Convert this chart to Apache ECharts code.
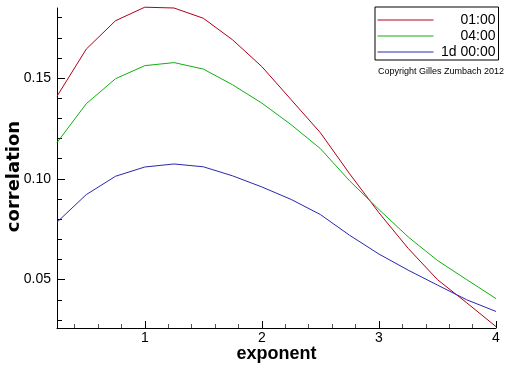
<!DOCTYPE html>
<html><head><meta charset="utf-8">
<script src="https://cdn.jsdelivr.net/npm/echarts@6/dist/echarts.min.js"></script>
<style>html,body{margin:0;padding:0;background:#fff}#c{width:512px;height:366px}</style>
</head><body><div id="c"></div>
<script>
var exponents = [0.25,0.5,0.75,1.0,1.25,1.5,1.75,2.0,2.25,2.5,2.75,3.0,3.25,3.5,3.75,4.0];
var s0100 = [0.1410,0.1644,0.1785,0.1852,0.1848,0.1797,0.1690,0.1557,0.1393,0.1229,0.1025,0.0832,0.0655,0.0500,0.0385,0.0267];
var s0400 = [0.1180,0.1373,0.1497,0.1562,0.1577,0.1545,0.1467,0.1376,0.1269,0.1150,0.0990,0.0848,0.0712,0.0595,0.0500,0.0406];
var s1d = [0.0785,0.0922,0.1013,0.1059,0.1074,0.1060,0.1015,0.0960,0.0898,0.0823,0.0720,0.0627,0.0547,0.0473,0.0400,0.0342];
var seriesNames = ['01:00','04:00','1d 00:00'];
var xMajor = [1,2,3,4];
var xMinor = [0.4,0.6,0.8,1.2,1.4,1.6,1.8,2.2,2.4,2.6,2.8,3.2,3.4,3.6,3.8];
var yMajor = [0.05,0.10,0.15];
var yMinor = [0.03,0.04,0.06,0.07,0.08,0.09,0.11,0.12,0.13,0.14,0.16,0.17,0.18];
var xName = 'exponent', yName = 'correlation';
var copyright = 'Copyright Gilles Zumbach 2012';

function pairs(v){ return exponents.map(function(x,i){return [x, v[i]];}); }
var colors = ['#b00018','#10b010','#2828b0'];
var chart = echarts.init(document.getElementById('c'));
chart.setOption({
  animation:false,
  backgroundColor:'#fff',
  title:{text:copyright, left:378, top:67, padding:0,
    textStyle:{fontFamily:'Liberation Sans', fontSize:9, fontWeight:'normal', color:'#000'}},
  legend:{orient:'vertical', left:375, top:7, padding:[6,3,1,2], itemGap:2,
    itemWidth:56, itemHeight:14, borderColor:'#000', borderWidth:1, borderRadius:0,
    selectedMode:false,
    itemStyle:{opacity:0},
    lineStyle:{width:1},
    formatter:function(n){return '{a|'+n+'}';},
    textStyle:{width:57, fontFamily:'Liberation Sans', fontSize:14, color:'#000',
      rich:{a:{align:'right', fontFamily:'Liberation Sans', fontSize:14, color:'#000'}}},
    data:seriesNames
  },
  grid:{left:57, right:16, top:8, bottom:38, containLabel:false, outerBoundsMode:'none'},
  xAxis:[{type:'value', min:0.25, max:4, position:'bottom',
      name:xName, nameLocation:'middle', nameGap:17, nameMoveOverlap:false,
      nameTextStyle:{fontFamily:'Liberation Sans', fontSize:18, fontWeight:'bold', color:'#000'},
      axisLine:{show:true, lineStyle:{color:'#000', width:1}},
      axisTick:{inside:true, length:7, customValues:xMajor, lineStyle:{color:'#000'}},
      axisLabel:{customValues:xMajor, margin:3, formatter:function(v){return String(v);}, fontFamily:'Liberation Sans', fontSize:14, color:'#000'},
      splitLine:{show:false}},
    {type:'value', min:0.25, max:4, position:'bottom', offset:0,
      axisLine:{show:false},
      axisTick:{inside:true, length:4, customValues:xMinor, lineStyle:{color:'#555'}},
      axisLabel:{show:false}, splitLine:{show:false}}],
  yAxis:[{type:'value', min:0.026, max:0.1848, position:'left',
      name:yName, nameLocation:'middle', nameGap:34, nameRotate:90, nameMoveOverlap:false,
      nameTextStyle:{fontFamily:'DejaVu Sans', fontSize:18, fontWeight:'bold', color:'#000', padding:[0,17,0,0]},
      axisLine:{show:true, lineStyle:{color:'#000', width:1}},
      axisTick:{inside:true, length:8, customValues:yMajor, lineStyle:{color:'#000'}},
      axisLabel:{customValues:yMajor, margin:6, formatter:function(v){return v.toFixed(2);}, fontFamily:'Liberation Sans', fontSize:14, color:'#000'},
      splitLine:{show:false}},
    {type:'value', min:0.026, max:0.1848, position:'left', offset:0,
      axisLine:{show:false},
      axisTick:{inside:true, length:5, customValues:yMinor, lineStyle:{color:'#000'}},
      axisLabel:{show:false}, splitLine:{show:false}}],
  series:[s0100,s0400,s1d].map(function(v,i){return {
    name:seriesNames[i], type:'line', xAxisIndex:0, yAxisIndex:0, data:pairs(v),
    showSymbol:false, symbol:'none', clip:false,
    lineStyle:{color:colors[i], width:1}, itemStyle:{color:colors[i]}};})
});
</script></body></html>
